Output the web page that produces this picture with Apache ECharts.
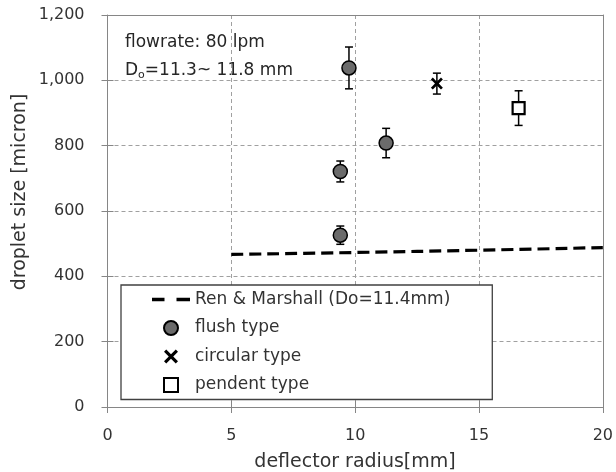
<!DOCTYPE html>
<html>
<head>
<meta charset="utf-8">
<script src="https://cdn.jsdelivr.net/npm/echarts@6/dist/echarts.min.js"></script>
<style>
	html, body { margin: 0; padding: 0; background: #fff; }
	#chart { width: 616px; height: 472px; }
</style>
</head>
<body>
<div id="chart"></div>
<script>
// data: [radius mm, droplet size micron, error +/-]
const renX = [5, 10, 15, 20];
const renY = [467, 473, 480, 488];
const flushData = [
	[9.4, 526, 28],
	[9.4, 721, 32],
	[9.75, 1038, 64],
	[11.25, 808, 45],
];
const circularData = [[13.3, 990, 32]];
const pendentData = [[16.6, 915, 53]];
const xTicks = { min: 0, max: 20, interval: 5 };
const yTicks = { min: 0, max: 1200, interval: 200 };

const FONT = "DejaVu Sans";
const TXT = "#333333";
const AXIS = "#868686";

const xMark =
	"path://M0,1.6L1.6,0L5,3.4L8.4,0L10,1.6L6.6,5L10,8.4L8.4,10L5,6.6L1.6,10L0,8.4L3.4,5Z";
// two dashes, padded to a 38x14 box by zero-area corners
const dashIcon =
	"path://M0,0L0.01,0L0,0.01Z M38,14L37.99,14L38,13.99Z M0,5.3H12.5V8.7H0Z M24.5,5.3H38V8.7H24.5Z";
const squareIcon = "path://M0,0H10V10H0Z";

function errorBars(name, data) {
	return {
		name: name + " err",
		type: "custom",
		z: 2,
		silent: true,
		data: data,
		renderItem: function (params, api) {
			const x = api.value(0);
			const y = api.value(1);
			const e = api.value(2);
			const top = api.coord([x, y + e]);
			const bot = api.coord([x, y - e]);
			const w = 4;
			const st = { stroke: "#000", lineWidth: 1.5 };
			return {
				type: "group",
				children: [
					{ type: "line", shape: { x1: top[0], y1: top[1], x2: bot[0], y2: bot[1] }, style: st },
					{ type: "line", shape: { x1: top[0] - w, y1: top[1], x2: top[0] + w, y2: top[1] }, style: st },
					{ type: "line", shape: { x1: bot[0] - w, y1: bot[1], x2: bot[0] + w, y2: bot[1] }, style: st },
				],
			};
		},
	};
}

const myChart = echarts.init(document.getElementById("chart"));

const baseX = {
	type: "value",
	min: xTicks.min,
	max: xTicks.max,
	interval: xTicks.interval,
};
const baseY = {
	type: "value",
	min: yTicks.min,
	max: yTicks.max,
	interval: yTicks.interval,
};
const gridDash = {
	show: true,
	showMinLine: false,
	showMaxLine: false,
	lineStyle: { color: "#a0a0a0", type: [4, 3] },
};
// plain frame line (top / right)
const frame = {
	axisLine: { show: true, onZero: false, lineStyle: { color: AXIS } },
	axisTick: { show: false },
	axisLabel: { show: false },
	splitLine: { show: false },
};

const options = {
	animation: false,
	textStyle: { fontFamily: FONT },
	grid: {
		left: 107.5,
		right: 13,
		top: 15,
		bottom: 65,
	},
	xAxis: [
		Object.assign({}, baseX, {
			axisLine: { lineStyle: { color: AXIS } },
			axisTick: { length: 6, lineStyle: { color: AXIS } },
			axisLabel: { color: TXT, fontSize: 16, margin: 21, fontFamily: FONT },
			splitLine: gridDash,
		}),
		// inner half of the crossing ticks
		Object.assign({}, baseX, {
			position: "bottom",
			axisLine: { show: false },
			axisTick: { inside: true, length: 6, lineStyle: { color: AXIS } },
			axisLabel: { show: false },
			splitLine: { show: false },
		}),
		Object.assign({}, baseX, { position: "top" }, frame),
	],
	yAxis: [
		Object.assign({}, baseY, {
			axisLine: { show: true, lineStyle: { color: AXIS } },
			axisTick: { show: true, length: 6, lineStyle: { color: AXIS } },
			axisLabel: {
				color: TXT,
				fontSize: 16,
				margin: 23,
				fontFamily: FONT,
				formatter: v => v.toLocaleString("en-US"),
			},
			splitLine: gridDash,
		}),
		Object.assign({}, baseY, {
			position: "left",
			axisLine: { show: false },
			axisTick: { show: true, inside: true, length: 6, lineStyle: { color: AXIS } },
			axisLabel: { show: false },
			splitLine: { show: false },
		}),
		Object.assign({}, baseY, { position: "right" }, frame),
	],
	legend: {
		orient: "vertical",
		left: 121,
		top: 285,
		padding: [6, 42, 6, 31],
		itemWidth: 38,
		itemHeight: 14,
		itemGap: 11.5,
		backgroundColor: "#fff",
		borderColor: "#404040",
		borderWidth: 1.3,
		borderRadius: 0,
		textStyle: { color: TXT, fontSize: 17, lineHeight: 16, fontFamily: FONT },
		data: [
			{ name: "Ren & Marshall (Do=11.4mm)", icon: dashIcon, itemStyle: { color: "#000", borderWidth: 0 } },
			"flush type",
			"circular type",
			{ name: "pendent type", icon: squareIcon },
		],
	},
	graphic: [
		{
			type: "text",
			x: 125,
			y: 43,
			style: {
				text: "flowrate: 80 lpm",
				font: "17px " + FONT,
				fill: "#262626",
				verticalAlign: "middle",
			},
		},
		{
			type: "text",
			x: 125,
			y: 71,
			style: {
				text: "{a|D}{s|o}{a|=11.3~ 11.8 mm}",
				fill: "#262626",
				verticalAlign: "middle",
				rich: {
					a: { fontSize: 17, fontFamily: FONT, fill: "#262626" },
					s: { fontSize: 11, fontFamily: FONT, fill: "#262626", padding: [9, 0, 0, 0] },
				},
			},
		},
		{
			type: "text",
			x: 20,
			y: 192,
			rotation: Math.PI / 2,
			style: {
				text: "droplet size [micron]",
				font: "19px " + FONT,
				fill: TXT,
				align: "center",
				verticalAlign: "middle",
			},
		},
		{
			type: "text",
			x: 355,
			y: 462,
			style: {
				text: "deflector radius[mm]",
				font: "19px " + FONT,
				fill: TXT,
				align: "center",
				verticalAlign: "middle",
			},
		},
	],
	series: [
		{
			name: "Ren & Marshall (Do=11.4mm)",
			type: "line",
			symbol: "none",
			smooth: true,
			data: renX.map((x, i) => [x, renY[i]]),
			lineStyle: { color: "#000", width: 3.2, type: [12, 6] },
			itemStyle: { color: "#000" },
			z: 1,
		},
		errorBars("flush type", flushData),
		errorBars("circular type", circularData),
		errorBars("pendent type", pendentData),
		{
			name: "flush type",
			type: "scatter",
			symbol: "circle",
			symbolSize: 14,
			data: flushData.map(d => [d[0], d[1]]),
			itemStyle: { color: "#6b6b6b", borderColor: "#000", borderWidth: 1.5, opacity: 1 },
			z: 3,
		},
		{
			name: "circular type",
			type: "scatter",
			symbol: xMark,
			symbolSize: 12,
			data: circularData.map(d => [d[0], d[1]]),
			itemStyle: { color: "#000", opacity: 1 },
			z: 3,
		},
		{
			name: "pendent type",
			type: "scatter",
			symbol: "rect",
			symbolSize: 12,
			data: pendentData.map(d => [d[0], d[1]]),
			itemStyle: { color: "#fff", borderColor: "#000", borderWidth: 2.2, opacity: 1 },
			z: 3,
		},
	],
};

myChart.setOption(options);
</script>
</body>
</html>
